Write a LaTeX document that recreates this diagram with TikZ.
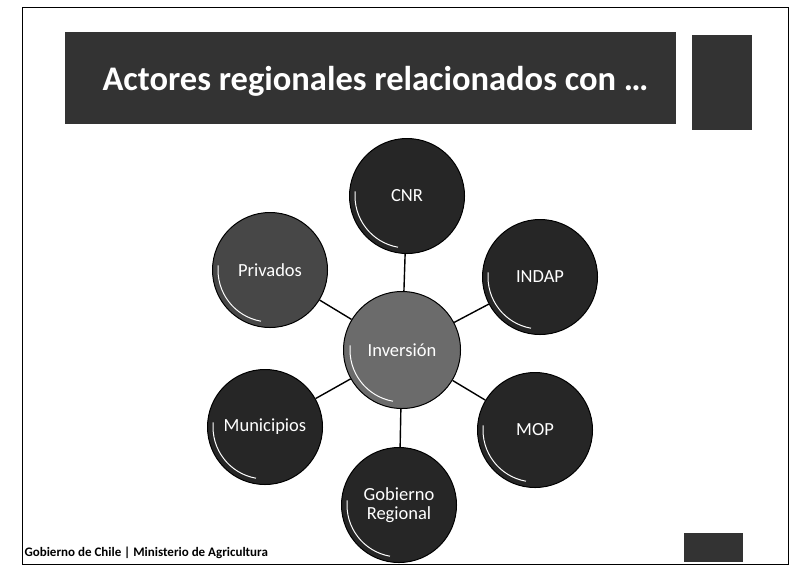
\documentclass[tikz,border=0pt]{standalone}
\usepackage{fontspec}
\setmainfont{Carlito}
\begin{document}
\begin{tikzpicture}[x=1pt, y=-1pt,
    actor/.style={circle, draw=black, line width=1pt, fill=black!85,
        minimum size=115pt, inner sep=0pt, text=white, align=center,
        font=\fontsize{18.5}{19}\selectfont},
    hub/.style={actor, fill=black!58, minimum size=117pt},
    link/.style={draw=black, line width=1.4pt},
    shine/.style={draw=white, line width=1pt}]
    \useasboundingbox (0,0) rectangle (791,579);
    % slide frame
    \draw[line width=1pt] (22,7) rectangle (788,564);
    % title banner and side square
    \fill[black!80] (65,32) rectangle (676,124);
    \fill[black!80] (692,35) rectangle (752,130);
    \node[text=white, anchor=base west, font=\bfseries\fontsize{34.5}{36}\selectfont]
        (title) at (99,90) {Actores regionales relacionados con \dots};
    
    % actors around the investment hub
    \node[hub] (inv) at (402,350) {Inversión};
    \node[actor] (cnr) at (407,196) {CNR};
    \node[actor] (indap) at (540,277) {INDAP};
    \node[actor] (mop) at (535,430) {MOP};
    \node[actor] (gore) at (399,505) {Gobierno\\Regional};
    \node[actor] (muni) at (265,427) {Municipios};
    \node[actor, fill=black!72] (priv) at (270,270) {Privados};
    
    \foreach \n in {cnr, indap, mop, gore, muni, priv}
        \draw[link] (inv) -- (\n);
    \foreach \n in {inv, cnr, indap, mop, gore, muni, priv}
        \draw[shine] (\n.center) ++(185:52) arc[start angle=185, end angle=100, radius=52];
    
    % footer
    \node[anchor=base west, font=\bfseries\fontsize{13}{14}\selectfont]
        (foot) at (21,556) {Gobierno de Chile | Ministerio de Agricultura};
    \fill[black!80] (684,533) rectangle (743,562);
\end{tikzpicture}
\end{document}
